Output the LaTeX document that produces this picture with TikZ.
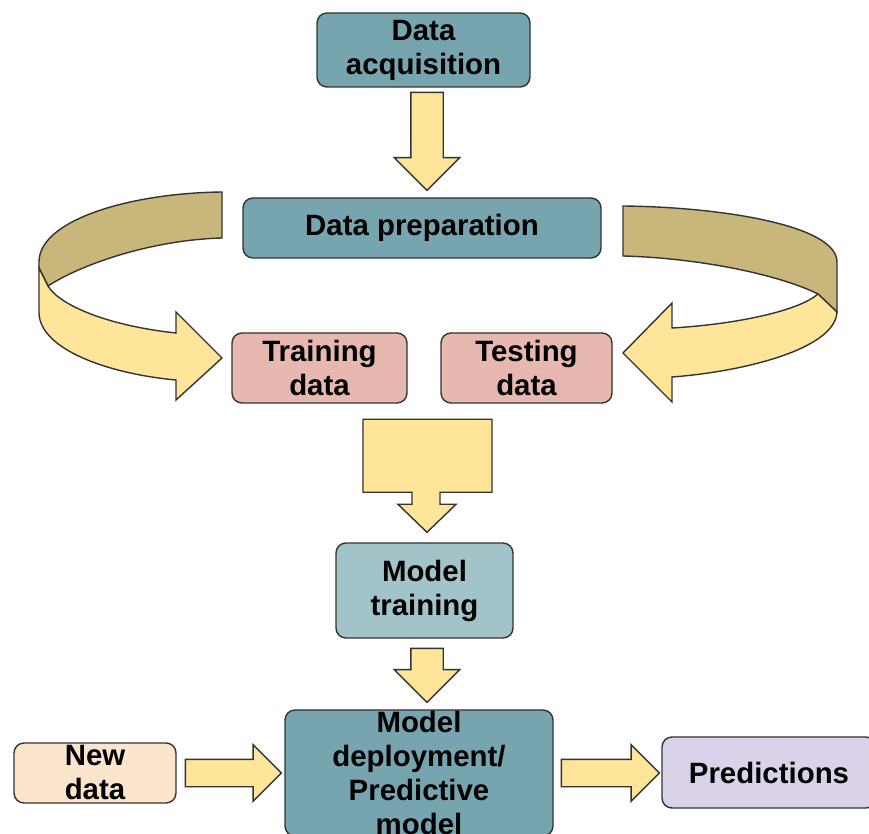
\documentclass[tikz,border=0pt]{standalone}
\usepackage{fontspec}
\setmainfont{Liberation Sans}
\usetikzlibrary{shapes.arrows,calc}

\definecolor{stageteal}{HTML}{76A5AF}
\definecolor{paleteal}{HTML}{A2C4C9}
\definecolor{splitpink}{HTML}{E6B8AF}
\definecolor{newpeach}{HTML}{FCE5CD}
\definecolor{predlilac}{HTML}{D9D2E9}
\definecolor{arrowyellow}{HTML}{FFE599}
\definecolor{foldtan}{HTML}{C9B67A}

\tikzset{
  stagebox/.style={draw=black!80, line width=0.7pt, rounded corners=5pt,
    align=center, inner sep=0pt, font=\bfseries\fontsize{14.7}{17}\selectfont},
  stagetext/.style={align=center, inner sep=0pt,
    font=\bfseries\fontsize{14.7}{17}\selectfont},
  flowarrow/.style={single arrow, draw=black!80, line width=0.7pt,
    fill=arrowyellow, inner xsep=0pt, anchor=tip},
  downarrow/.style={flowarrow, rotate=-90, inner ysep=7.75pt,
    single arrow head extend=8.25pt, minimum width=32pt},
  sidearrow/.style={flowarrow, inner ysep=6.5pt,
    single arrow head extend=7.25pt, minimum width=27.5pt}
}

\begin{document}
\begin{tikzpicture}[x=0.5pt,y=-0.5pt]
  \useasboundingbox (0,0) rectangle (869,834);
  \clip (0,0) rectangle (869,834);

  % stages
  \node[stagebox, fill=stageteal, minimum width=106.5pt, minimum height=37pt]
    (acq) at (423.5,50) {Data\\acquisition};
  \node[stagebox, fill=stageteal, minimum width=179pt, minimum height=30pt]
    (prep) at (422,228) {Data preparation};
  \node[stagebox, fill=splitpink, minimum width=87.5pt, minimum height=35pt]
    (train) at (319.5,368) {Training\\data};
  \node[stagebox, fill=splitpink, minimum width=85.5pt, minimum height=35pt]
    (test) at (526.5,368) {Testing\\data};
  \node[stagebox, fill=paleteal, minimum width=88.5pt, minimum height=47.5pt]
    (mtrain) at (424.5,590.5) {Model\\training};
  \node[stagebox, fill=stageteal, minimum width=134pt, minimum height=63pt]
    (deploy) at (419,773) {};
  \node[stagetext] (deploytxt) at (deploy) {Model\\deployment/\\Predictive\\model};
  \node[stagebox, fill=newpeach, minimum width=81pt, minimum height=30pt]
    (new) at (95,773) {};
  \node[stagetext] (newtxt) at (new) {New\\data};
  \node[stagebox, fill=predlilac, minimum width=107pt, minimum height=35.5pt]
    (pred) at (769,772.5) {Predictions};

  % straight arrows, placed by their tips
  \node[downarrow, minimum height=49pt] (a1) at ($(prep.north)+(5,-6)$) {};
  \node[downarrow, minimum height=27pt] (a4) at ($(deploy.north)+(8,-6)$) {};
  \node[sidearrow, minimum height=48pt] (a5) at ($(deploy.west)+(-2,0)$) {};
  \node[sidearrow, minimum height=49pt] (a6) at ($(pred.west)+(-1,0.5)$) {};

  % merge arrow into training
  \coordinate (split) at ($(mtrain.north)+(2.5,-10)$);
  \draw[draw=black!80, line width=0.7pt, fill=arrowyellow] (split) -- ++(29,-28)
    -- ++(-16,0) -- ++(0,-12) -- ++(52,0) -- ++(0,-73) -- ++(-129,0)
    -- ++(0,73) -- ++(49,0) -- ++(0,12) -- ++(-14,0) -- cycle;

  % left u-turn
  \draw[draw=black!80, line width=0.7pt, fill=foldtan]
    (222,192) .. controls (130,193) and (39,220) .. (39,262)
    -- (39,268) -- (48,286) .. controls (80,265) and (150,240) .. (222,238) -- cycle;
  \draw[draw=black!80, line width=0.7pt, fill=arrowyellow] (39,268) -- (39,313)
    .. controls (40,350) and (110,374) .. (176,380) -- (176,400) -- (222,358)
    -- (176,312) -- (176,333) .. controls (110,326) and (60,306) .. (48,286) -- cycle;

  % right u-turn
  \draw[draw=black!80, line width=0.7pt, fill=foldtan]
    (623,206) .. controls (720,207) and (837,225) .. (837,262)
    -- (837,312) -- (818,294) .. controls (780,275) and (700,258) .. (623,256) -- cycle;
  \draw[draw=black!80, line width=0.7pt, fill=arrowyellow] (818,294) -- (837,312)
    .. controls (835,350) and (740,372) .. (672,377) -- (672,402) -- (623,353)
    -- (672,303) -- (672,328) .. controls (740,324) and (800,310) .. (818,294) -- cycle;
\end{tikzpicture}
\end{document}
